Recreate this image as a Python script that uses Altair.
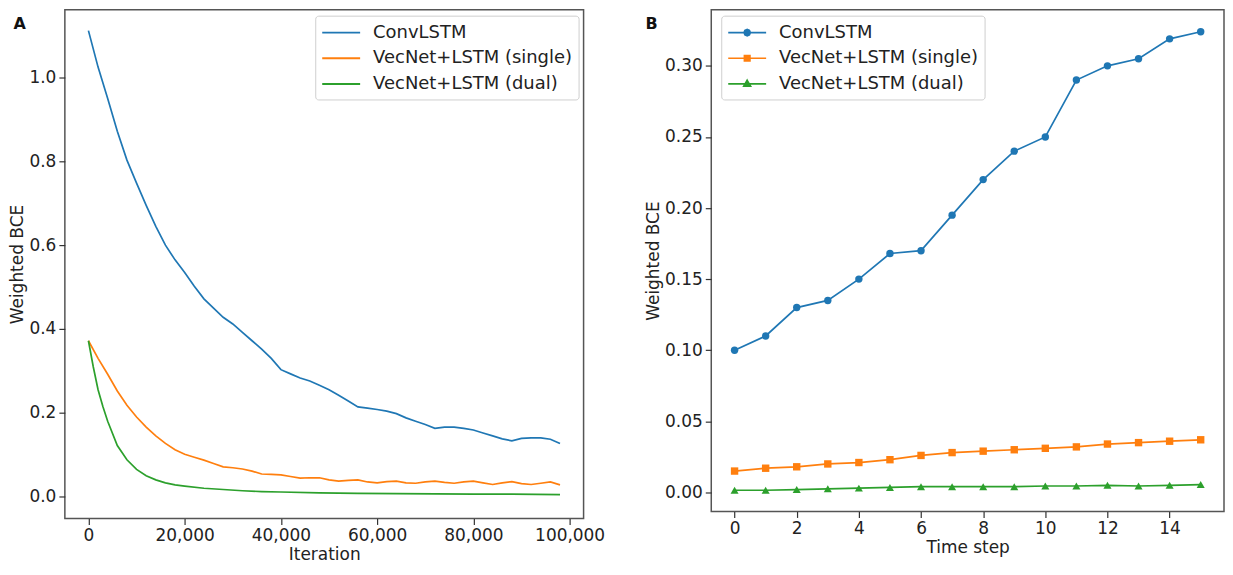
import altair as alt
import pandas as pd

# ---------------- data ----------------
series_names = ["ConvLSTM", "VecNet+LSTM (single)", "VecNet+LSTM (dual)"]
series_colors = ["#1f77b4", "#ff7f0e", "#2ca02c"]
panel_labels = ["A", "B"]

# Panel A : training curves
conv_iter = [0, 2000, 4000, 6000, 8000, 10000, 12000, 14000, 16000, 18000,
             20000, 22000, 24000, 26000, 28000, 30000, 32000, 34000, 36000, 38000,
             40000, 42000, 44000, 46000, 48000, 50000, 52000, 54000, 56000, 58000,
             60000, 62000, 64000, 66000, 68000, 70000, 72000, 74000, 76000, 78000,
             80000, 82000, 84000, 86000, 88000, 90000, 92000, 94000, 96000, 98000]
conv_bce = [1.112, 1.025, 0.950, 0.872, 0.803, 0.748, 0.695, 0.645, 0.600, 0.565,
            0.535, 0.502, 0.472, 0.450, 0.428, 0.412, 0.392, 0.372, 0.352, 0.330,
            0.303, 0.293, 0.283, 0.276, 0.266, 0.255, 0.242, 0.228, 0.214, 0.211,
            0.208, 0.204, 0.198, 0.188, 0.180, 0.172, 0.163, 0.166, 0.166, 0.163,
            0.159, 0.152, 0.145, 0.138, 0.133, 0.139, 0.140, 0.140, 0.137, 0.127]
single_iter = conv_iter
single_bce = [0.372, 0.330, 0.292, 0.252, 0.218, 0.190, 0.166, 0.145, 0.127, 0.112,
              0.101, 0.094, 0.087, 0.079, 0.071, 0.069, 0.066, 0.061, 0.054, 0.053,
              0.052, 0.048, 0.044, 0.045, 0.045, 0.040, 0.037, 0.039, 0.040, 0.035,
              0.033, 0.036, 0.037, 0.033, 0.032, 0.035, 0.037, 0.034, 0.032, 0.035,
              0.037, 0.033, 0.029, 0.033, 0.036, 0.031, 0.029, 0.032, 0.035, 0.028]
dual_iter = [0, 1000, 2000, 3000, 4000, 6000, 8000, 10000, 12000, 14000, 16000,
             18000, 20000, 24000, 28000, 32000, 36000, 40000, 48000, 56000, 64000,
             72000, 80000, 88000, 98000]
dual_bce = [0.372, 0.310, 0.255, 0.215, 0.180, 0.122, 0.088, 0.065, 0.050, 0.040, 0.033,
            0.028, 0.025, 0.020, 0.017, 0.014, 0.012, 0.011, 0.009, 0.008, 0.007,
            0.0065, 0.006, 0.006, 0.005]

# Panel B : error per time step
time_steps = [0, 1, 2, 3, 4, 5, 6, 7, 8, 9, 10, 11, 12, 13, 14, 15]
conv_step_bce = [0.100, 0.110, 0.130, 0.135, 0.150, 0.168, 0.170, 0.195,
                 0.220, 0.240, 0.250, 0.290, 0.300, 0.305, 0.319, 0.324]
single_step_bce = [0.015, 0.017, 0.018, 0.020, 0.021, 0.023, 0.026, 0.028,
                   0.029, 0.030, 0.031, 0.032, 0.034, 0.035, 0.036, 0.037]
dual_step_bce = [0.0015, 0.0015, 0.002, 0.0025, 0.003, 0.0035, 0.004, 0.004,
                 0.004, 0.004, 0.0045, 0.0045, 0.005, 0.0045, 0.005, 0.0055]

# ---------------- tables ----------------
rowsA = []
for name, xs, ys in zip(series_names, [conv_iter, single_iter, dual_iter],
                        [conv_bce, single_bce, dual_bce]):
    for x, y in zip(xs, ys):
        rowsA.append({"series": name, "iteration": x, "bce": y})
dfA = pd.DataFrame(rowsA)

rowsB = []
for name, ys in zip(series_names, [conv_step_bce, single_step_bce, dual_step_bce]):
    for x, y in zip(time_steps, ys):
        rowsB.append({"series": name, "step": x, "bce": y})
dfB = pd.DataFrame(rowsB)

FONT = "DejaVu Sans"
axis_style = dict(labelFont=FONT, labelFontSize=17, labelColor="#222",
                  titleFont=FONT, titleFontSize=17, titleFontWeight="normal",
                  titleColor="#222", tickColor="#333", tickSize=6, tickWidth=1.2,
                  domain=False, grid=False, labelPadding=3)

legend_style = dict(orient="none", title=None, labelFont=FONT, labelFontSize=18,
                    labelColor="#222", labelLimit=400, padding=6, rowPadding=5.7,
                    labelOffset=30, symbolSize=400, strokeColor="#cfcfcf",
                    fillColor="rgba(255,255,255,0.85)", cornerRadius=3)

# ---------------- panel A ----------------
color_scale = alt.Scale(domain=series_names, range=series_colors)
xA = alt.X("iteration:Q", scale=alt.Scale(domain=[-4900, 102900], nice=False, zero=False),
           axis=alt.Axis(values=[0, 20000, 40000, 60000, 80000, 100000], format=",d",
                         title="Iteration", titlePadding=3, **axis_style))
yA = alt.Y("bce:Q", scale=alt.Scale(domain=[-0.052, 1.162], nice=False, zero=False),
           axis=alt.Axis(values=[0, 0.2, 0.4, 0.6, 0.8, 1.0], format=".1f",
                         title="Weighted BCE", titlePadding=2, **axis_style))
legA = alt.Legend(legendX=251, legendY=6, symbolType="M-1,0L2.8,0",
                  symbolStrokeWidth=2, **legend_style)
linesA = alt.Chart(dfA).mark_line(strokeWidth=1.7).encode(
    x=xA, y=yA,
    color=alt.Color("series:N", scale=color_scale, sort=series_names, legend=legA))
textA = alt.Chart(pd.DataFrame({"panel": [panel_labels[0]]})).mark_text(
    font=FONT, fontSize=16, fontWeight="bold", align="left", baseline="middle",
    color="#111").encode(text="panel:N", x=alt.value(-51.5), y=alt.value(14))
panelA = alt.layer(linesA, textA).properties(width=520, height=510)

# ---------------- panel B ----------------
xB = alt.X("step:Q", scale=alt.Scale(domain=[-0.75, 15.75], nice=False, zero=False),
           axis=alt.Axis(values=[0, 2, 4, 6, 8, 10, 12, 14], format="d",
                         title="Time step", titlePadding=3, **axis_style))
yB = alt.Y("bce:Q", scale=alt.Scale(domain=[-0.0134, 0.3395], nice=False, zero=False),
           axis=alt.Axis(values=[0, 0.05, 0.10, 0.15, 0.20, 0.25, 0.30], format=".2f",
                         title="Weighted BCE", titlePadding=2, **axis_style))

# legend symbols: short line with the marker in its middle
legend_paths = [
    "M-1,0L2.8,0M1.215,0L1.123,0.223L0.9,0.315L0.677,0.223L0.585,0"
    "L0.677,-0.223L0.9,-0.315L1.123,-0.223Z",
    "M-1,0L2.8,0M0.625,-0.275L1.175,-0.275L1.175,0.275L0.625,0.275Z",
    "M-1,0L2.8,0M0.9,-0.36L1.24,0.23L0.56,0.23Z",
]
legB = alt.Legend(legendX=10, legendY=6, symbolStrokeWidth=1.7, symbolOpacity=1,
                  **legend_style)

baseB = alt.Chart(dfB)
linesB = baseB.mark_line(strokeWidth=1.7).encode(
    x=xB, y=yB,
    color=alt.Color("series:N", scale=color_scale, sort=series_names, legend=legB))

marker_shapes = ["circle", "square", "triangle-up"]
marker_sizes = [55, 55, 65]
point_layers = []
for name, shp, sz, col in zip(series_names, marker_shapes, marker_sizes, series_colors):
    point_layers.append(
        baseB.transform_filter(alt.datum.series == name)
        .mark_point(filled=True, shape=shp, size=sz, opacity=1, color=col)
        .encode(x=xB, y=yB))

legend_layer = baseB.transform_filter("false").mark_point(
    filled=True, size=400, opacity=1).encode(
    x=xB, y=yB,
    color=alt.Color("series:N", scale=color_scale, sort=series_names, legend=legB),
    shape=alt.Shape("series:N", scale=alt.Scale(domain=series_names, range=legend_paths),
                    sort=series_names, legend=legB))
textB = alt.Chart(pd.DataFrame({"panel": [panel_labels[1]]})).mark_text(
    font=FONT, fontSize=16, fontWeight="bold", align="left", baseline="middle",
    color="#111").encode(text="panel:N", x=alt.value(-66), y=alt.value(14))
panelB = alt.layer(linesB, *point_layers, legend_layer, textB).properties(width=514, height=503)

chart = (
    alt.hconcat(panelA, panelB, spacing=38)
    .resolve_scale(color="independent", shape="independent")
    .configure_view(stroke="#555", strokeWidth=1.5)
    .properties(padding=0)
)

chart.save("out.html", embed_options={"renderer": "svg", "actions": False})
